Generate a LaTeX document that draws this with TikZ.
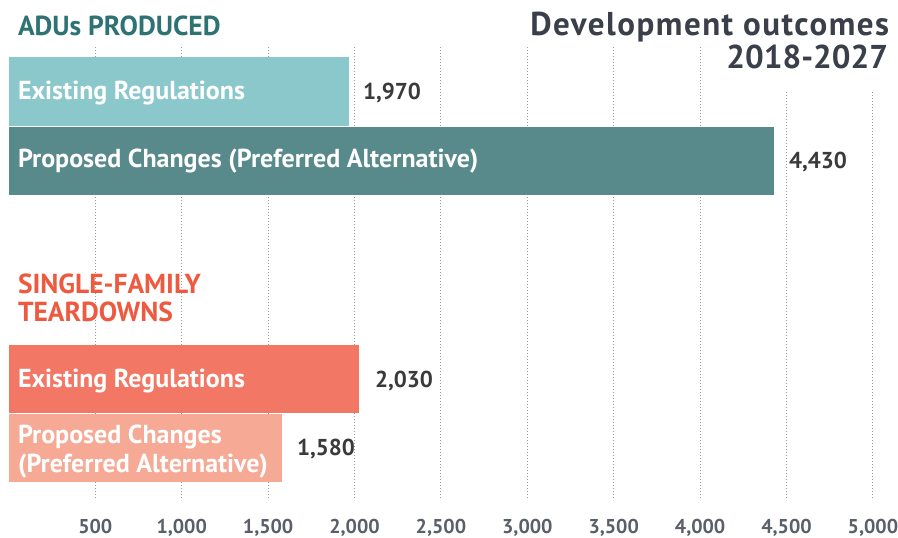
\documentclass[tikz,border=0pt]{standalone}
\usepackage{fontspec}
\setmainfont{PT Sans}
\definecolor{tealL}{HTML}{8BC8CB}
\definecolor{tealD}{HTML}{588A8C}
\definecolor{tealT}{HTML}{2E7274}
\definecolor{salm}{HTML}{F27764}
\definecolor{salmL}{HTML}{F6A994}
\definecolor{redT}{HTML}{EE5A3F}
\definecolor{ttl}{HTML}{3A3F4A}
\definecolor{val}{HTML}{3A3A3A}
\definecolor{axl}{HTML}{5A5F6A}
\definecolor{grid}{HTML}{9A9A9A}
\tikzset{
  every node/.style={inner sep=0pt, outer sep=0pt, font=\bfseries},
  barlbl/.style={anchor=base west, text=white, font=\fontsize{26}{30}\selectfont\bfseries},
  vallbl/.style={anchor=base west, text=val, font=\fontsize{23}{27}\selectfont\bfseries},
  axlbl/.style={anchor=base, text=axl, font=\fontsize{20}{24}\selectfont\bfseries},
  gridln/.style={grid, line width=1pt, dotted},
  head/.style={anchor=base west, font=\fontsize{27.5}{31}\selectfont\bfseries},
  title/.style={anchor=base east, text=ttl, font=\fontsize{33}{37}\selectfont\bfseries},
}
\begin{document}
\begin{tikzpicture}[x=1pt,y=-1pt]
\useasboundingbox (0,0) rectangle (898,538);
\fill[white] (0,0) rectangle (898,538);
% gridlines
\foreach \v in {500,1000,...,4000}{
  \draw[gridln] ({8.9+0.1728*\v},47) -- ({8.9+0.1728*\v},499);
}
\foreach \v in {4500,5000}{
  \draw[gridln] ({8.9+0.1728*\v},92) -- ({8.9+0.1728*\v},499);
}
% bars
\fill[tealL] (8.5,57) rectangle (349,125.5);
\fill[tealD] (8.5,126.5) rectangle (774,195);
\fill[salm] (8.5,345) rectangle (358.5,412.5);
\fill[salmL] (8.5,413.5) rectangle (282,482);
% headings
\node[head, text=tealT] (h1) at (18,35) {ADUs PRODUCED};
\node[head, text=redT] (h2) at (18,293) {SINGLE-FAMILY};
\node[head, text=redT] (h3) at (18,321) {TEARDOWNS};
\node[title] (t1) at (889,35) {\addfontfeature{LetterSpace=4.5}Development outcomes};
\node[title] (t2) at (888,68) {2018-2027};
% bar labels
\node[barlbl] (b1) at (18,99) {Existing Regulations};
\node[barlbl] (b2) at (18,167) {Proposed Changes (Preferred Alternative)};
\node[barlbl] (b3) at (18,387) {Existing Regulations};
\node[barlbl] (b4) at (18,443) {Proposed Changes};
\node[barlbl] (b5) at (18,472) {(Preferred Alternative)};
% values
\node[vallbl] (v1) at (363,99) {1,970};
\node[vallbl] (v2) at (789,168) {4,430};
\node[vallbl] (v3) at (375,387) {2,030};
\node[vallbl] (v4) at (297,455) {1,580};
% axis labels
\foreach \v/\t in {500/500,1000/{1,000},1500/{1,500},2000/{2,000},2500/{2,500},3000/{3,000},3500/{3,500},4000/{4,000},4500/{4,500},5000/{5,000}}{
  \node[axlbl] (ax\v) at ({8.9+0.1728*\v},533) {\t};
}
\end{tikzpicture}
\end{document}
